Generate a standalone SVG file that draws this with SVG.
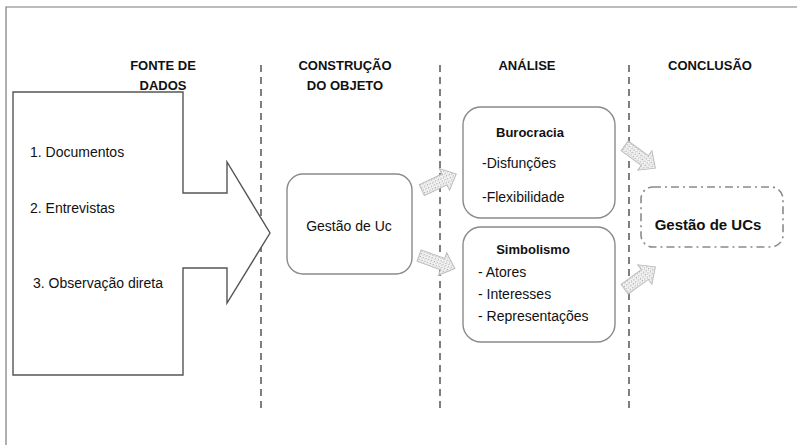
<svg xmlns="http://www.w3.org/2000/svg" width="797" height="445" viewBox="0 0 797 445">
<style>
text{font-family:"Liberation Sans",Arial,sans-serif;font-size:14px;fill:#111}
.h{font-weight:bold;text-anchor:middle;font-size:13px}
.b{font-weight:bold;font-size:13px}
.c{text-anchor:middle}
.box{fill:#fff;stroke:#8a8a8a;stroke-width:1.4}
.sep{stroke:#555;stroke-width:1.5;stroke-dasharray:7 5;fill:none}
.ha{fill:url(#hatch);stroke:#bdbdbd;stroke-width:1}
</style>
<defs>
<pattern id="hatch" width="3" height="3" patternUnits="userSpaceOnUse">
<rect width="3" height="3" fill="#f2f2f2"/>
<rect width="1" height="1" fill="#a8a8a8"/>
<rect x="2" y="1" width="1" height="1" fill="#c8c8c8"/>
</pattern>
<path id="blk" d="M-19,-6 L6,-6 L6,-12 L19,0 L6,12 L6,6 L-19,6 Z"/>
</defs>
<rect width="797" height="445" fill="#fff"/>
<g id="frame" fill="none" stroke="#7a7a7a" stroke-width="1.2">
<path d="M6,445 L6,7 L797,7"/>
</g>
<g id="separators">
<line class="sep" x1="261" y1="65" x2="261" y2="411"/>
<line class="sep" x1="440" y1="65" x2="440" y2="411"/>
<line class="sep" x1="629" y1="65" x2="629" y2="411"/>
</g>
<g id="headers">
<text class="h" x="163" y="70">FONTE DE</text>
<text class="h" x="163" y="90">DADOS</text>
<text class="h" x="345" y="70">CONSTRUÇÃO</text>
<text class="h" x="345" y="90">DO OBJETO</text>
<text class="h" x="527" y="70">ANÁLISE</text>
<text class="h" x="710" y="70">CONCLUSÃO</text>
</g>
<g id="fonte">
<path d="M13,92 L183,92 L183,193 L227,193 L227,162 L270,233 L227,303 L227,268 L183,268 L183,375 L13,375 Z" fill="#fff" stroke="#555" stroke-width="1.4"/>
<text x="30" y="157">1. Documentos</text>
<text x="30" y="213">2. Entrevistas</text>
<text x="33" y="288">3. Observação direta</text>
</g>
<g id="objeto">
<rect class="box" x="287" y="174" width="125" height="100" rx="16"/>
<text class="c" x="349" y="231">Gestão de Uc</text>
</g>
<g id="burocracia">
<rect class="box" x="463" y="107" width="152" height="111" rx="18"/>
<text class="b c" x="530" y="137">Burocracia</text>
<text x="482" y="168">-Disfunções</text>
<text x="482" y="202">-Flexibilidade</text>
</g>
<g id="simbolismo">
<rect class="box" x="463" y="227" width="152" height="115" rx="18"/>
<text class="b c" x="533" y="254">Simbolismo</text>
<text x="478" y="277">- Atores</text>
<text x="478" y="299">- Interesses</text>
<text x="478" y="321">- Representações</text>
</g>
<g id="conclusao">
<rect x="641" y="187" width="142" height="60" rx="12" fill="#fff" stroke="#8a8a8a" stroke-width="1.6" stroke-dasharray="8 4 2 4"/>
<text class="c" x="708" y="230" style="font-size:15px;font-weight:bold">Gestão de UCs</text>
</g>
<g id="connectors">
<use href="#blk" class="ha" transform="translate(439,182) rotate(-25)"/>
<use href="#blk" class="ha" transform="translate(437,262) rotate(20)"/>
<use href="#blk" class="ha" transform="translate(640,157) rotate(36)"/>
<use href="#blk" class="ha" transform="translate(640,278) rotate(-36)"/>
</g>
</svg>
